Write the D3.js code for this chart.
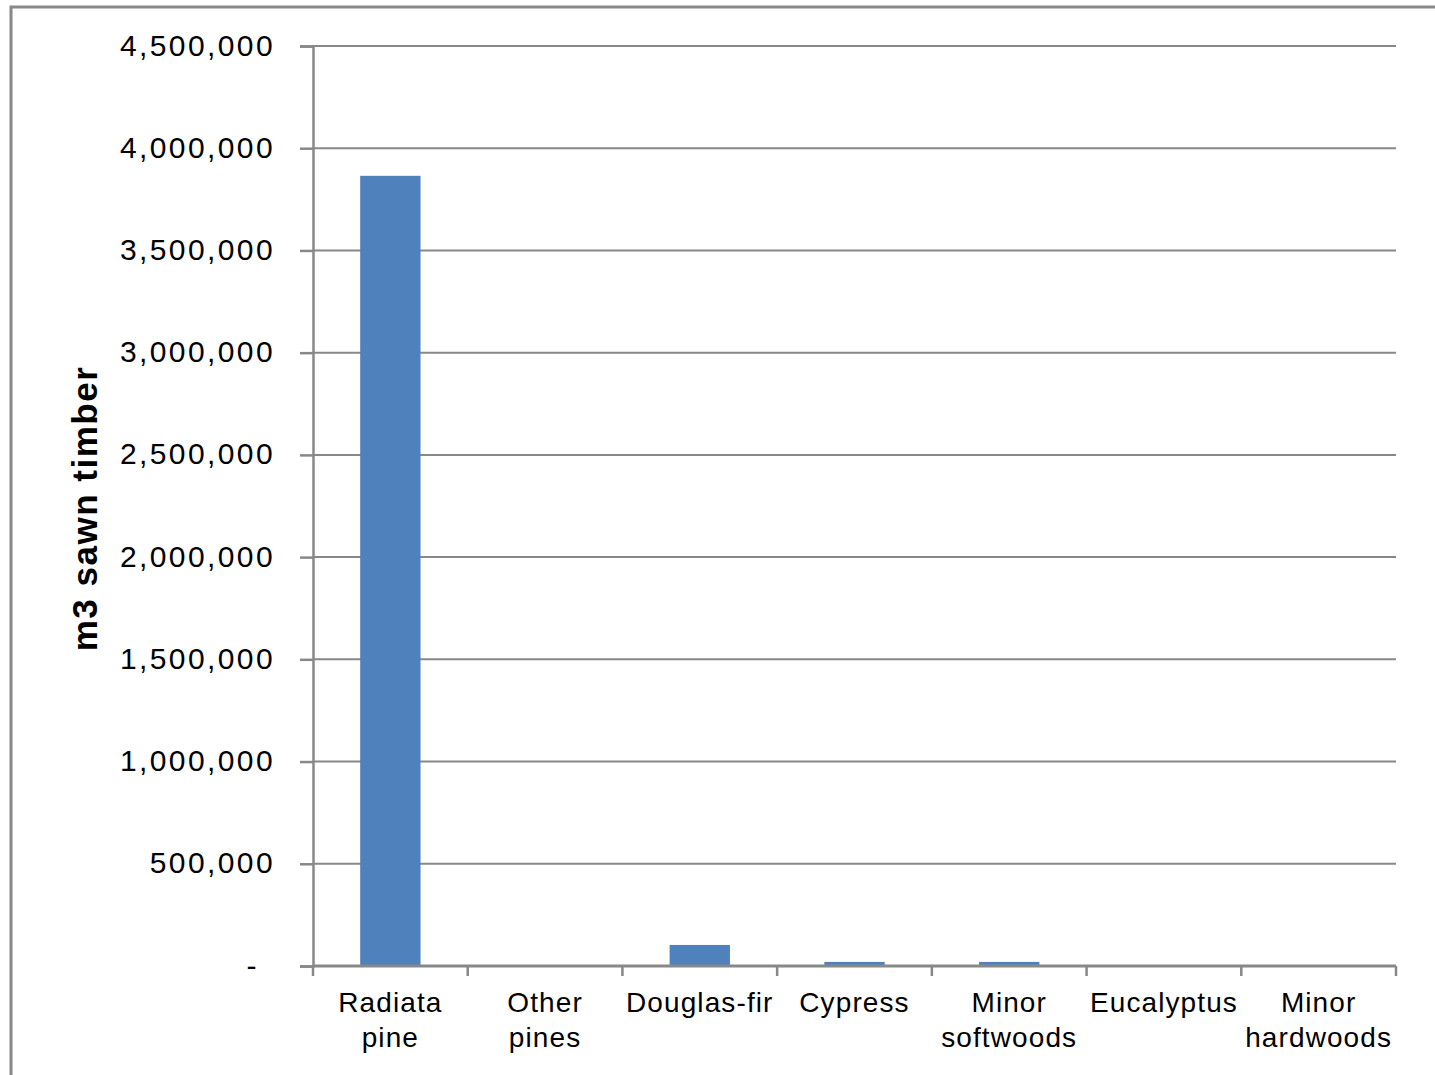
<!DOCTYPE html>
<html>
<head>
<meta charset="utf-8">
<script src="https://cdn.jsdelivr.net/npm/d3@7"></script>
<style>
  body { margin: 0; background: #fff; }
  svg text { font-family: "Liberation Sans", Arial, sans-serif; fill: #000; }
</style>
</head>
<body>
<svg></svg>
<script>
const categories = [
  ['Radiata', 'pine'],
  ['Other', 'pines'],
  ['Douglas-fir'],
  ['Cypress'],
  ['Minor', 'softwoods'],
  ['Eucalyptus'],
  ['Minor', 'hardwoods']
];
const volumes = [3865000, 0, 103000, 20000, 20000, 0, 0];
const yTicks = [0, 500000, 1000000, 1500000, 2000000, 2500000, 3000000, 3500000, 4000000, 4500000];
const yTitle = 'm3 sawn timber';

(() => {
  let width = 1435;
  let height = 1075;
  let plotLeft = 313, plotRight = 1396, plotTop = 46, plotBottom = 966;
  let gridColor = '#888888';

  let svg = d3.select('svg').attr('width', width).attr('height', height);

  // outer chart border
  svg.append('rect')
    .attr('x', 11).attr('y', 7)
    .attr('width', width + 20).attr('height', height + 20)
    .attr('fill', 'none').attr('stroke', gridColor).attr('stroke-width', 3);

  let keys = categories.map((c) => c.join(' '));

  let xScale = d3.scaleBand()
    .domain(keys)
    .range([plotLeft, plotRight])
    .paddingInner(0.61)
    .paddingOuter(0.305);

  let yScale = d3.scaleLinear()
    .domain([0, 4500000])
    .range([plotBottom, plotTop]);

  // gridlines
  svg.append('g')
    .selectAll('line')
    .data(yTicks.filter((t) => t > 0))
    .enter()
    .append('line')
    .attr('x1', plotLeft).attr('x2', plotRight)
    .attr('y1', (d) => yScale(d)).attr('y2', (d) => yScale(d))
    .attr('stroke', gridColor).attr('stroke-width', 2);

  // bars
  svg.append('g')
    .selectAll('rect')
    .data(volumes)
    .enter()
    .append('rect')
    .attr('x', (d, i) => xScale(keys[i]))
    .attr('width', xScale.bandwidth())
    .attr('y', (d) => yScale(d))
    .attr('height', (d) => plotBottom - yScale(d))
    .attr('fill', '#4F81BD');

  // y axis
  let yAxis = d3.axisLeft(yScale)
    .tickValues(yTicks)
    .tickSize(13)
    .tickPadding(25)
    .tickFormat((d) => d === 0 ? '-' : d3.format(',')(d));

  let gy = svg.append('g')
    .attr('transform', `translate(${plotLeft},0)`)
    .call(yAxis);
  gy.select('.domain').attr('stroke', gridColor).attr('stroke-width', 2.5);
  gy.selectAll('.tick line').attr('stroke', gridColor).attr('stroke-width', 2.5);
  gy.selectAll('.tick text')
    .attr('font-size', 30)
    .attr('letter-spacing', 2.4)
    .attr('dy', '0.3em')
    .attr('dx', (d) => d === 0 ? -16 : 0)
    .style('font-family', '"Liberation Sans", Arial, sans-serif');

  // x axis with ticks at category boundaries
  let xLine = svg.append('g').attr('transform', `translate(0,${plotBottom})`);
  xLine.append('line')
    .attr('x1', plotLeft).attr('x2', plotRight)
    .attr('stroke', gridColor).attr('stroke-width', 3);
  let step = xScale.step();
  xLine.selectAll('.xtick')
    .data(d3.range(keys.length + 1))
    .enter()
    .append('line')
    .attr('class', 'xtick')
    .attr('x1', (i) => plotLeft + i * step).attr('x2', (i) => plotLeft + i * step)
    .attr('y1', 0).attr('y2', 10)
    .attr('stroke', gridColor).attr('stroke-width', 2.5);

  let labels = svg.append('g')
    .selectAll('text')
    .data(categories)
    .enter()
    .append('text')
    .attr('x', (d, i) => xScale(keys[i]) + xScale.bandwidth() / 2)
    .attr('y', 1012)
    .attr('text-anchor', 'middle')
    .attr('font-size', 28)
    .attr('letter-spacing', 1.1);
  labels.selectAll('tspan')
    .data((d) => d)
    .enter()
    .append('tspan')
    .attr('x', function () { return d3.select(this.parentNode).attr('x'); })
    .attr('dy', (d, i) => i === 0 ? 0 : 35)
    .text((d) => d);

  // y axis title
  svg.append('text')
    .attr('transform', `translate(97,${(365 + 652) / 2}) rotate(-90)`)
    .attr('text-anchor', 'middle')
    .attr('font-size', 35)
    .attr('font-weight', 'bold')
    .attr('letter-spacing', 1.5)
    .text(yTitle);
})();
</script>
</body>
</html>
